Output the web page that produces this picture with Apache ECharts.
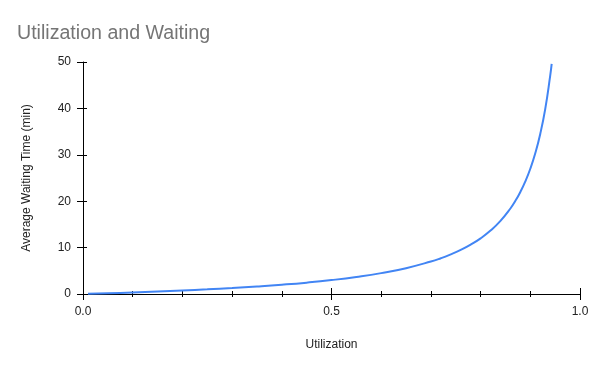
<!DOCTYPE html>
<html>
<head>
<meta charset="utf-8">
<script src="https://cdn.jsdelivr.net/npm/echarts@6/dist/echarts.min.js"></script>
<style>html,body{margin:0;padding:0;background:#fff;}#c{width:600px;height:371px;}</style>
</head>
<body>
<div id="c"></div>
<script>
const titleText = 'Utilization and Waiting';
const xName = 'Utilization';
const yName = 'Average Waiting Time (min)';
const utilization = [0.01, 0.05, 0.1, 0.15, 0.2, 0.25, 0.3, 0.35, 0.4, 0.45, 0.5, 0.55, 0.6, 0.65, 0.7, 0.72, 0.74, 0.76, 0.78, 0.8, 0.82, 0.84, 0.86, 0.87, 0.88, 0.89, 0.9, 0.91, 0.92, 0.93, 0.94, 0.943];
const waitTime = [0.03, 0.16, 0.33, 0.53, 0.75, 1.0, 1.29, 1.62, 2.0, 2.45, 3.0, 3.67, 4.5, 5.57, 7.0, 7.71, 8.54, 9.5, 10.64, 12.0, 13.67, 15.75, 18.43, 20.08, 22.0, 24.27, 27.0, 30.33, 34.5, 39.86, 47.0, 49.6];
const xTicks = [0, 0.5, 1.0];
const yTicks = [0, 10, 20, 30, 40, 50];

const font = '"Liberation Sans", Arial, sans-serif';
const chart = echarts.init(document.getElementById('c'), null, {renderer: 'canvas'});
const baseX = {
  type: 'value', min: xTicks[0], max: xTicks[xTicks.length - 1], interval: 0.5,
  splitLine: {show: false}
};
const baseY = {
  type: 'value', min: yTicks[0], max: yTicks[yTicks.length - 1], interval: 10,
  splitLine: {show: false}
};
chart.setOption({
  animation: false,
  title: {
    text: titleText, left: 12, top: 19,
    textStyle: {fontFamily: font, fontSize: 19.6, fontWeight: 'normal', color: '#757575'}
  },
  grid: {left: 83, right: 20, top: 62, bottom: 77},
  xAxis: [
    Object.assign({}, baseX, {
      name: xName, nameLocation: 'middle', nameGap: 45,
      nameTextStyle: {fontFamily: font, fontSize: 12, color: '#222'},
      axisLine: {show: true, lineStyle: {color: '#000', width: 1}},
      axisTick: {show: true, inside: false, length: 6, lineStyle: {color: '#000'}},
      minorTick: {show: true, splitNumber: 5, length: 3, lineStyle: {color: '#000'}},
      axisLabel: {fontFamily: font, fontSize: 12, color: '#222', margin: 12,
        formatter: v => v.toFixed(1)}
    }),
    Object.assign({}, baseX, {
      position: 'bottom', gridIndex: 0,
      axisLine: {show: false},
      axisTick: {show: true, inside: true, length: 6, lineStyle: {color: '#000'}},
      minorTick: {show: true, splitNumber: 5, length: 3, lineStyle: {color: '#000'}},
      axisLabel: {show: false}
    })
  ],
  yAxis: [
    Object.assign({}, baseY, {
      name: yName, nameLocation: 'middle', nameGap: 50, nameRotate: 90,
      nameTextStyle: {fontFamily: font, fontSize: 12, color: '#222'},
      axisLine: {show: true, lineStyle: {color: '#000', width: 1}},
      axisTick: {show: true, inside: false, length: 6, lineStyle: {color: '#000'}},
      axisLabel: {fontFamily: font, fontSize: 12, color: '#222', margin: 12}
    }),
    Object.assign({}, baseY, {
      position: 'left',
      axisLine: {show: false},
      axisTick: {show: true, inside: true, length: 4, lineStyle: {color: '#000'}},
      axisLabel: {show: false}
    })
  ],
  series: [{
    type: 'line', xAxisIndex: 0, yAxisIndex: 0,
    data: utilization.map((u, i) => [u, waitTime[i]]),
    smooth: true, showSymbol: false,
    lineStyle: {color: '#4285F4', width: 2}
  }]
});
</script>
</body>
</html>
